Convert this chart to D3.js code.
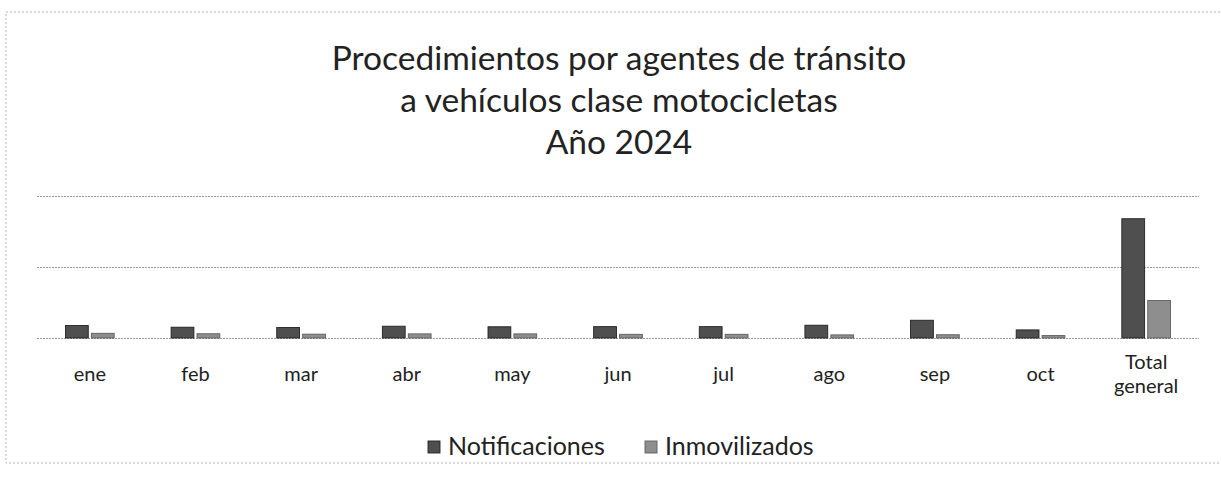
<!DOCTYPE html>
<html>
<head>
<meta charset="utf-8">
<script src="https://cdn.jsdelivr.net/npm/d3@7"></script>
<style>
  body { margin: 0; background: #fff; }
  svg { display: block; font-family: Lato, "Open Sans", sans-serif; }
</style>
</head>
<body>
<script>
// months + total column
var categories = ["ene", "feb", "mar", "abr", "may", "jun", "jul", "ago", "sep", "oct", "Total general"];
var notificaciones = [880, 760, 740, 830, 790, 800, 800, 900, 1250, 570, 8400];
var inmovilizados = [330, 300, 270, 290, 290, 260, 260, 220, 230, 170, 2640];
var seriesNames = ["Notificaciones", "Inmovilizados"];
var gridTicks = [0, 5000, 10000];

var width = 1221, height = 489;
var margin = {top: 196, right: 22, bottom: 151, left: 37};
var colors = ["#4f4f4f", "#8e8e8e"];

var rows = categories.map(function(c, i) {
  return {cat: c, values: [notificaciones[i], inmovilizados[i]]};
});

var svg = d3.select('body').append('svg')
  .attr('width', width)
  .attr('height', height);

// chart area frame
svg.append('rect')
  .attr('x', 6)
  .attr('y', 12)
  .attr('width', width + 20)
  .attr('height', 451)
  .attr('fill', 'none')
  .attr('stroke', '#b5b5b5')
  .attr('stroke-width', 1)
  .attr('stroke-dasharray', '2,2');

var title = svg.append('text')
  .attr('text-anchor', 'middle')
  .attr('font-size', '33.5px')
  .attr('fill', '#222');
["Procedimientos por agentes de tránsito", "a vehículos clase motocicletas", "Año 2024"].forEach(function(t, i) {
  title.append('tspan')
    .attr('x', 619)
    .attr('y', 70 + i * 42)
    .text(t);
});

var g = svg.append('g')
  .attr('transform', 'translate(' + margin.left + ',' + margin.top + ')');

var w = width - margin.left - margin.right,
    h = height - margin.top - margin.bottom;

var x0 = d3.scaleBand().domain(categories).range([0, w]).paddingInner(0.48).paddingOuter(0.24);
var x1 = d3.scaleBand().domain([0, 1]).range([0, x0.bandwidth()]).padding(0.12);
var y = d3.scaleLinear().domain([0, 10000]).range([h, 0]);

var yAxis = d3.axisLeft(y).tickValues(gridTicks).tickSize(-w).tickFormat('');
g.append('g')
  .attr('class', 'grid')
  .call(yAxis)
  .call(function(s) {
    s.select('.domain').remove();
    s.selectAll('line')
      .attr('stroke', '#9a9a9a')
      .attr('stroke-dasharray', '2,1');
  });

g.selectAll('.cat')
  .data(rows)
  .enter()
  .append('g')
  .attr('class', 'cat')
  .attr('transform', function(d) { return 'translate(' + x0(d.cat) + ',0)'; })
  .selectAll('rect')
  .data(function(d) { return d.values; })
  .enter()
  .append('rect')
  .attr('x', function(d, i) { return x1(i); })
  .attr('y', function(d) { return y(d); })
  .attr('width', x1.bandwidth())
  .attr('height', function(d) { return h - y(d); })
  .attr('fill', function(d, i) { return colors[i]; })
  .attr('stroke', function(d, i) { return i == 0 ? '#222' : '#5e5e5e'; })
  .attr('stroke-width', 0.9);

var xAxis = d3.axisBottom(x0).tickSize(0).tickPadding(0);
var xg = g.append('g')
  .attr('transform', 'translate(0,' + h + ')')
  .call(xAxis);
xg.select('.domain').remove();
xg.selectAll('text').remove();
xg.selectAll('.tick').each(function(d) {
  var words = d.split(' ');
  var t = d3.select(this).append('text')
    .attr('text-anchor', 'middle')
    .attr('fill', '#222')
    .attr('font-size', '20px')
    .attr('font-family', 'Lato, "Open Sans", sans-serif');
  var first = 43 - (words.length - 1) * 12;
  words.forEach(function(wd, i) {
    t.append('tspan').attr('x', 0).attr('y', first + i * 24).text(wd);
  });
});

var legend = svg.append('g')
  .attr('id', 'legend')
  .attr('transform', 'translate(428,447)');

var legendX = [0, 217];
seriesNames.forEach(function(name, i) {
  legend.append('rect')
    .attr('x', legendX[i])
    .attr('y', -6)
    .attr('width', 12)
    .attr('height', 12)
    .attr('fill', colors[i])
    .attr('stroke', i == 0 ? '#222' : '#5e5e5e')
    .attr('stroke-width', 0.9);
  legend.append('text')
    .attr('x', legendX[i] + 20)
    .attr('y', 8)
    .attr('font-size', '25px')
    .attr('fill', '#222')
    .text(name);
});
</script>
</body>
</html>
